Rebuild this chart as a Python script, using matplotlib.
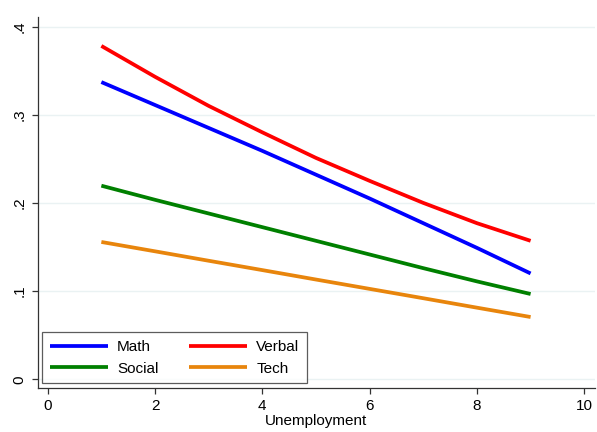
import matplotlib
matplotlib.use("Agg")
import matplotlib.pyplot as plt
from matplotlib.ticker import FuncFormatter

plt.rcParams['font.family'] = ['Liberation Sans', 'DejaVu Sans']

unemployment = [1, 2, 3, 4, 5, 6, 7, 8, 9]
math_vals = [0.337, 0.311, 0.285, 0.259, 0.232, 0.205, 0.177, 0.149, 0.120]
verbal_vals = [0.378, 0.343, 0.310, 0.280, 0.251, 0.225, 0.200, 0.177, 0.157]
social_vals = [0.2195, 0.2035, 0.188, 0.1725, 0.157, 0.1415, 0.126, 0.111, 0.0967]
tech_vals = [0.1557, 0.1451, 0.1344, 0.1238, 0.1131, 0.1025, 0.0919, 0.0812, 0.0706]

series = [("Math", math_vals, "#0000ff"),
          ("Verbal", verbal_vals, "#ff0000"),
          ("Social", social_vals, "#008000"),
          ("Tech", tech_vals, "#e8850c")]

x_ticks = [0, 2, 4, 6, 8, 10]
y_ticks = [0, 0.1, 0.2, 0.3, 0.4]

fig = plt.figure(figsize=(5.97, 4.32), dpi=100)
ax = fig.add_axes([0.0632, 0.1019, 0.9334, 0.8594])

handles = {}
for name, vals, col in series:
    h, = ax.plot(unemployment, vals, color=col, lw=2.7, label=name, solid_capstyle='butt')
    handles[name] = h

ax.set_xlim(-0.186, 10.2)
ax.set_ylim(-0.00986, 0.4111)
ax.set_xticks(x_ticks)
ax.set_yticks(y_ticks)

def yfmt(v, pos):
    s = f"{v:.1f}"
    if s.startswith("0."):
        s = s[1:]
    if s == ".0":
        s = "0"
    return s

ax.yaxis.set_major_formatter(FuncFormatter(yfmt))
ax.grid(axis='y', color='#eaf2f3', lw=1)
ax.set_axisbelow(True)
for sp in ['top', 'right']:
    ax.spines[sp].set_visible(False)
for sp in ['left', 'bottom']:
    ax.spines[sp].set_color('#333333')
    ax.spines[sp].set_linewidth(0.9)
ax.tick_params(axis='both', direction='out', length=4, width=0.9, color='#333333',
               labelsize=11, pad=4)
for lab in ax.get_yticklabels():
    lab.set_rotation(90)
    lab.set_va('center')
ax.set_xlabel("Unemployment", fontsize=11, labelpad=1)

order = ["Math", "Social", "Verbal", "Tech"]
leg = ax.legend([handles[n] for n in order], order, ncol=2, loc='lower left',
                bbox_to_anchor=(0.0083, 0.0127), borderaxespad=0,
                frameon=True, fancybox=False, edgecolor='#333333', fontsize=11,
                handlelength=3.8, columnspacing=2.0, borderpad=0.5, labelspacing=0.5,
                handletextpad=0.6)
leg.get_frame().set_linewidth(0.9)

fig.savefig("out.png", dpi=100)
